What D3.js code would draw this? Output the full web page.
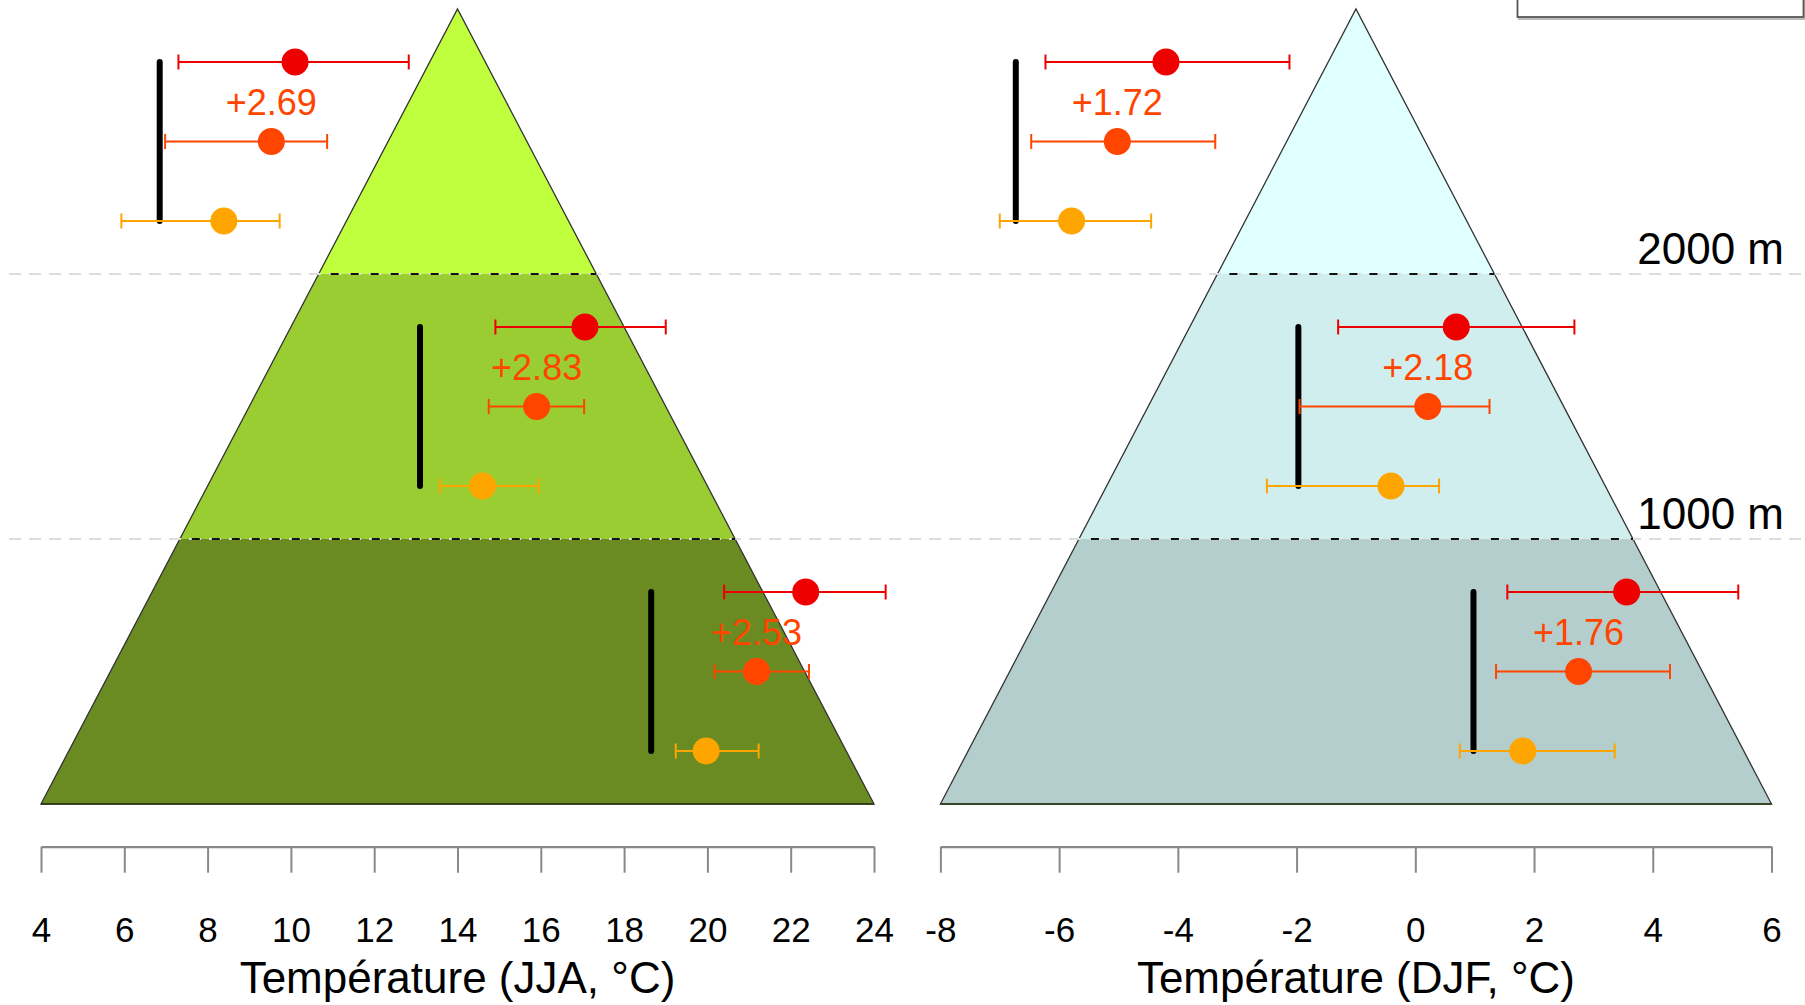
<!DOCTYPE html>
<html>
<head>
<meta charset="utf-8">
<script src="https://cdn.jsdelivr.net/npm/d3@7"></script>
<style>
  html, body { margin: 0; padding: 0; background: #fff; }
  svg { display: block; }
  text { font-family: "Liberation Sans", Arial, Helvetica, sans-serif; }
</style>
</head>
<body>
<svg id="chart" width="1805" height="1005"></svg>
<script>
// ---------------- DATA ----------------
// Elevation bands (m), listed from the top band down
const bandBottoms = [2000, 1000, 0];
const bandTops    = [3000, 2000, 1000];
const boundaryElev = [2000, 1000];
const boundaryLabels = ["2000 m", "1000 m"];
// Elevation (m) at which each series is drawn inside each band (top band first)
const elevRed       = [2800, 1800, 800];
const elevOrangered = [2500, 1500, 500];
const elevOrange    = [2200, 1200, 200];

// Summer (JJA) temperatures, °C (top band first)
const jjaRef     = [6.85, 13.10, 18.65];
const jjaRed     = [10.10, 17.06, 22.36];
const jjaRedLo   = [7.30, 14.91, 20.40];
const jjaRedHi   = [12.83, 19.00, 24.28];
const jjaOR      = [9.53, 15.90, 21.18];
const jjaORLo    = [6.98, 14.75, 20.17];
const jjaORHi    = [10.87, 17.04, 22.44];
const jjaOrange  = [8.39, 14.60, 19.97];
const jjaOrLo    = [5.93, 13.58, 19.24];
const jjaOrHi    = [9.73, 15.95, 21.23];
const jjaLabels  = ["+2.69", "+2.83", "+2.53"];
const jjaTicks   = [4, 6, 8, 10, 12, 14, 16, 18, 20, 22, 24];

// Winter (DJF) temperatures, °C (top band first)
const djfRef     = [-6.73, -1.97, 0.98];
const djfRed     = [-4.20, 0.69, 3.56];
const djfRedLo   = [-6.23, -1.30, 1.55];
const djfRedHi   = [-2.12, 2.68, 5.44];
const djfOR      = [-5.02, 0.21, 2.75];
const djfORLo    = [-6.47, -1.95, 1.36];
const djfORHi    = [-3.37, 1.25, 4.29];
const djfOrange  = [-5.79, -0.41, 1.81];
const djfOrLo    = [-7.00, -2.50, 0.75];
const djfOrHi    = [-4.45, 0.40, 3.36];
const djfLabels  = ["+1.72", "+2.18", "+1.76"];
const djfTicks   = [-8, -6, -4, -2, 0, 2, 4, 6];

// ---------------- DRAWING ----------------
const svg = d3.select("#chart");
const W = 1805;
const y = d3.scaleLinear().domain([0, 3000]).range([804, 9]);

const COL_RED = "#EE0000", COL_OR = "#FF4500", COL_ORANGE = "#FFA500";

const panels = [
  { dom: [4, 24], range: [41, 874], apex: 14, ticks: jjaTicks,
    fills: ["#C0FF3E", "#9ACD32", "#698B22"],
    title: "Température (JJA, °C)",
    ref: jjaRef, labels: jjaLabels,
    series: [
      { c: COL_RED, m: jjaRed, lo: jjaRedLo, hi: jjaRedHi, e: elevRed },
      { c: COL_OR, m: jjaOR, lo: jjaORLo, hi: jjaORHi, e: elevOrangered },
      { c: COL_ORANGE, m: jjaOrange, lo: jjaOrLo, hi: jjaOrHi, e: elevOrange }
    ] },
  { dom: [-8, 6], range: [940.4, 1771.5], apex: -1, ticks: djfTicks,
    fills: ["#E0FFFF", "#D1EEEE", "#B4CDCD"],
    title: "Température (DJF, °C)",
    ref: djfRef, labels: djfLabels,
    series: [
      { c: COL_RED, m: djfRed, lo: djfRedLo, hi: djfRedHi, e: elevRed },
      { c: COL_OR, m: djfOR, lo: djfORLo, hi: djfORHi, e: elevOrangered },
      { c: COL_ORANGE, m: djfOrange, lo: djfOrLo, hi: djfOrHi, e: elevOrange }
    ] }
];

const gBack = svg.append("g");
const gGrid = svg.append("g");
const gFront = svg.append("g");

panels.forEach(p => {
  const x = d3.scaleLinear().domain(p.dom).range(p.range);
  const top = y.domain()[1];
  const leftAt = e => p.dom[0] + (p.apex - p.dom[0]) * e / top;
  const rightAt = e => p.dom[1] + (p.apex - p.dom[1]) * e / top;

  // bands
  bandBottoms.forEach((b, i) => {
    const t = bandTops[i];
    const pts = [[leftAt(b), b], [rightAt(b), b], [rightAt(t), t], [leftAt(t), t]]
      .map(d => [x(d[0]), y(d[1])]);
    gBack.append("path")
      .attr("d", d3.line()(pts) + "Z")
      .attr("fill", p.fills[i]);
  });
  // triangle outline
  const tri = [[p.dom[0], 0], [p.dom[1], 0], [p.apex, top]].map(d => [x(d[0]), y(d[1])]);
  gBack.append("path").attr("d", d3.line()(tri) + "Z")
    .attr("fill", "none").attr("stroke", "#333").attr("stroke-width", 1.3)
    .attr("stroke-linejoin", "miter");
  gBack.append("line")
    .attr("x1", x(p.dom[0])).attr("x2", x(p.dom[1]))
    .attr("y1", y(0)).attr("y2", y(0))
    .attr("stroke", "#2a3a10").attr("stroke-width", 2).attr("opacity", 0.7);

  // black dashed boundaries inside triangle
  boundaryElev.forEach(e => {
    gGrid.append("line")
      .attr("x1", x(leftAt(e))).attr("x2", x(rightAt(e)))
      .attr("y1", y(e)).attr("y2", y(e))
      .attr("stroke", "#111").attr("stroke-width", 2.2)
      .attr("stroke-dasharray", "8,12").attr("stroke-dashoffset", -12);
  });

  // reference (black) vertical lines
  p.ref.forEach((v, i) => {
    gFront.append("line")
      .attr("x1", x(v)).attr("x2", x(v))
      .attr("y1", y(p.series[0].e[i])).attr("y2", y(p.series[2].e[i]))
      .attr("stroke", "#000").attr("stroke-width", 6)
      .attr("stroke-linecap", "round");
  });

  // error bars and points
  p.series.forEach(s => {
    s.m.forEach((v, i) => {
      const yy = y(s.e[i]);
      const g = gFront.append("g");
      g.append("line").attr("x1", x(s.lo[i])).attr("x2", x(s.hi[i]))
        .attr("y1", yy).attr("y2", yy).attr("stroke", s.c).attr("stroke-width", 2);
      [s.lo[i], s.hi[i]].forEach(c => {
        g.append("line").attr("x1", x(c)).attr("x2", x(c))
          .attr("y1", yy - 7.5).attr("y2", yy + 7.5)
          .attr("stroke", s.c).attr("stroke-width", 2);
      });
      g.append("circle").attr("cx", x(v)).attr("cy", yy).attr("r", 13.5).attr("fill", s.c);
    });
  });

  // change labels
  p.labels.forEach((t, i) => {
    const ym = y((p.series[0].e[i] + p.series[1].e[i]) / 2);
    gFront.append("text")
      .attr("x", x(p.series[1].m[i])).attr("y", ym + 12.8)
      .attr("text-anchor", "middle").attr("font-size", 36)
      .attr("fill", COL_OR).text(t);
  });

  // axis
  const axis = d3.axisBottom(x).tickValues(p.ticks).tickSize(26).tickSizeOuter(0)
    .tickPadding(44).tickFormat(d3.format("d"));
  const ga = svg.append("g").attr("transform", "translate(0,846.7)").call(axis);
  ga.select(".domain").attr("stroke", "#888").attr("stroke-width", 2.2);
  ga.selectAll(".tick line").attr("stroke", "#888").attr("stroke-width", 2);
  ga.selectAll(".tick text").attr("font-size", 35).attr("fill", "#000")
    .attr("font-family", "'Liberation Sans', Arial, sans-serif")
    .text(d => d < 0 ? "-" + Math.abs(d) : d);

  svg.append("text")
    .attr("x", x(p.apex)).attr("y", 993)
    .attr("text-anchor", "middle").attr("font-size", 44).attr("fill", "#000")
    .text(p.title);
});

// full-width grey dashed lines at band boundaries
boundaryElev.forEach((e, i) => {
  gGrid.insert("line", ":first-child")
    .attr("x1", 9).attr("x2", W)
    .attr("y1", y(e)).attr("y2", y(e))
    .attr("stroke", "#DDDDDD").attr("stroke-width", 2.2)
    .attr("stroke-dasharray", "12,8");
  svg.append("text")
    .attr("x", 1784).attr("y", y(e) - 10)
    .attr("text-anchor", "end").attr("font-size", 44).attr("fill", "#000")
    .text(boundaryLabels[i]);
});

// legend box (mostly outside the frame)
svg.append("rect").attr("x", 1519).attr("y", -40).attr("width", 286).attr("height", 59)
  .attr("fill", "none").attr("stroke", "#bbb").attr("stroke-width", 2);
svg.append("rect").attr("x", 1517.5).attr("y", -40).attr("width", 286).attr("height", 57)
  .attr("fill", "#fff").attr("stroke", "#555").attr("stroke-width", 1.8);
</script>
</body>
</html>
